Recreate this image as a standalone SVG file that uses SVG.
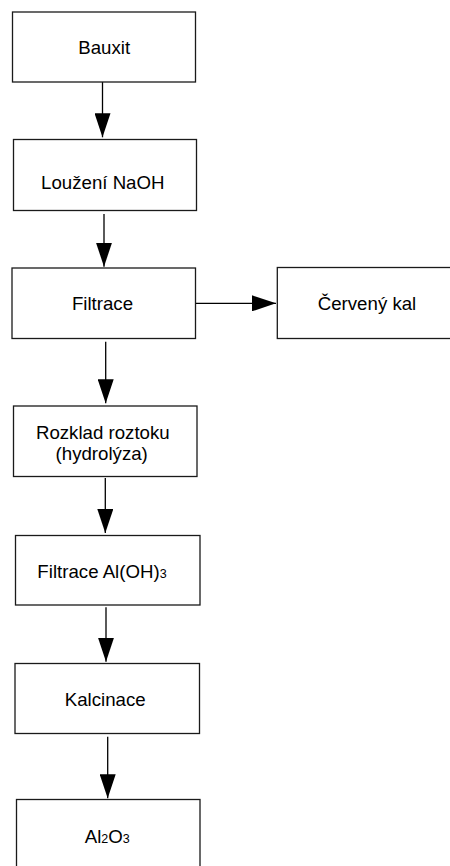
<svg xmlns="http://www.w3.org/2000/svg" width="450" height="866" viewBox="0 0 450 866">
<style>
.box{fill:#fff;stroke:#1a1a1a;stroke-width:1.3}
.lbl{font-family:"Liberation Sans",Arial,sans-serif;font-size:18.67px;fill:#000;text-anchor:middle}
.sub{font-size:12.5px}
.con{stroke:#000;stroke-width:1.3;fill:none;marker-end:url(#ah)}
</style>
<defs>
<marker id="ah" markerUnits="userSpaceOnUse" markerWidth="24" markerHeight="16" refX="24" refY="8" orient="auto" viewBox="0 0 24 16">
<path d="M0,0 L24,8 L0,16 z" fill="#000"/>
</marker>
</defs>
<rect width="450" height="866" fill="#fff"/>
<g id="connectors">
<line class="con" x1="102.5" y1="82" x2="102.5" y2="137.3"/>
<line class="con" x1="104" y1="214" x2="104" y2="266.7"/>
<line class="con" x1="196" y1="303.3" x2="276" y2="303.3"/>
<line class="con" x1="105.7" y1="341.7" x2="105.7" y2="403.3"/>
<line class="con" x1="105.3" y1="478" x2="105.3" y2="533"/>
<line class="con" x1="106" y1="607.3" x2="106" y2="661.7"/>
<line class="con" x1="107.7" y1="736.7" x2="107.7" y2="798.3"/>
</g>
<g id="bauxit">
<rect class="box" x="12.5" y="12" width="183" height="70"/>
<text class="lbl" x="104.2" y="54.3">Bauxit</text>
</g>
<g id="louzeni">
<rect class="box" x="13.5" y="139.5" width="183" height="71"/>
<text class="lbl" x="102.8" y="189.3">Loužení NaOH</text>
</g>
<g id="filtrace">
<rect class="box" x="12" y="268" width="183.5" height="70.5"/>
<text class="lbl" x="102.5" y="310">Filtrace</text>
</g>
<g id="cerveny-kal">
<rect class="box" x="277.3" y="267.5" width="190" height="71"/>
<text class="lbl" x="367" y="310">Červený kal</text>
</g>
<g id="rozklad">
<rect class="box" x="13.5" y="406" width="183.5" height="70.5"/>
<text class="lbl" x="102.8" y="439.3">Rozklad roztoku</text>
<text class="lbl" x="101.7" y="460">(hydrolýza)</text>
</g>
<g id="filtrace-aloh3">
<rect class="box" x="15.5" y="535.5" width="184.5" height="69.5"/>
<text class="lbl" x="102" y="578.3">Filtrace Al(OH)<tspan class="sub">3</tspan></text>
</g>
<g id="kalcinace">
<rect class="box" x="15" y="663.5" width="184.5" height="70"/>
<text class="lbl" x="105.2" y="705.7">Kalcinace</text>
</g>
<g id="al2o3">
<rect class="box" x="16.5" y="799.5" width="183.5" height="80"/>
<text class="lbl" x="107.2" y="842.7">Al<tspan class="sub">2</tspan>O<tspan class="sub">3</tspan></text>
</g>
</svg>
